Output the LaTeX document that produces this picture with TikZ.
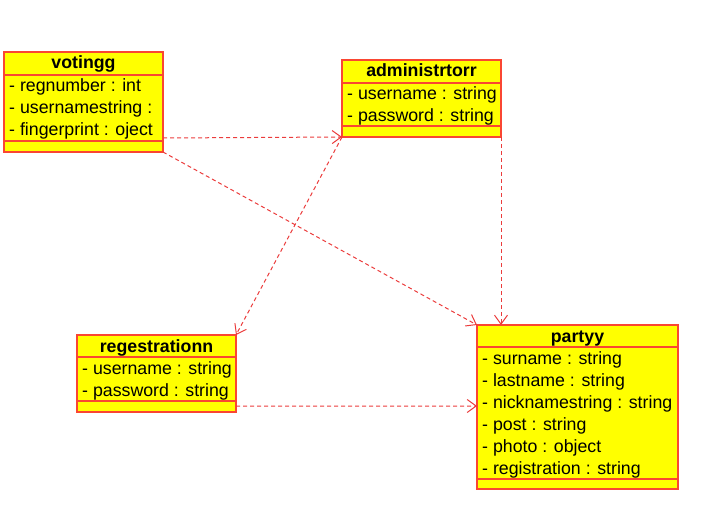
\documentclass[tikz,border=0pt]{standalone}
\usepackage{fontspec}
\setmainfont{Liberation Sans}
\usetikzlibrary{arrows.meta,calc}
\definecolor{boxline}{RGB}{250,70,50}
\definecolor{boxfill}{RGB}{255,255,0}
\definecolor{conn}{RGB}{235,60,60}
\begin{document}
\begin{tikzpicture}[x=1bp,y=-1bp,
  classbox/.style={draw=boxline,fill=boxfill,line width=1.3bp,anchor=north west,inner sep=0,outer sep=0},
  sepline/.style={draw=boxline,line width=1.3bp},
  ttl/.style={font=\fontsize{17.75bp}{21bp}\selectfont\bfseries,anchor=base,inner sep=0},
  attr/.style={font=\fontsize{17.75bp}{21bp}\selectfont,anchor=base west,inner sep=0},
  dep/.style={draw=conn,line width=1bp,dash pattern=on 4bp off 3bp,-{Straight Barb[length=9bp,width=13bp]}}]
\useasboundingbox (0,0) rectangle (714,510);

% votingg
\node[classbox,minimum width=159bp,minimum height=100bp] (votingg) at (4,52) {};
\draw[sepline] ($(votingg.north west)+(0,23)$) -- ($(votingg.north east)+(0,23)$);
\draw[sepline] ($(votingg.north west)+(0,89)$) -- ($(votingg.north east)+(0,89)$);
\node[ttl] (votinggT) at ($(votingg.north)+(0,17)$) {votingg};
\node[attr] (votingg1) at ($(votingg.north west)+(5,40)$) {- regnumber : int};
\node[attr] (votingg2) at ($(votingg.north west)+(5,62)$) {- usernamestring :};
\node[attr] (votingg3) at ($(votingg.north west)+(5,84)$) {- fingerprint : oject};

% administrtorr
\node[classbox,minimum width=159bp,minimum height=77bp] (admin) at (342,60) {};
\draw[sepline] ($(admin.north west)+(0,23)$) -- ($(admin.north east)+(0,23)$);
\draw[sepline] ($(admin.north west)+(0,66)$) -- ($(admin.north east)+(0,66)$);
\node[ttl] (adminT) at ($(admin.north)+(0,17)$) {administrtorr};
\node[attr] (admin1) at ($(admin.north west)+(5,40)$) {- username : string};
\node[attr] (admin2) at ($(admin.north west)+(5,62)$) {- password : string};

% regestrationn
\node[classbox,minimum width=159bp,minimum height=77bp] (reg) at (77,335) {};
\draw[sepline] ($(reg.north west)+(0,22)$) -- ($(reg.north east)+(0,22)$);
\draw[sepline] ($(reg.north west)+(0,66)$) -- ($(reg.north east)+(0,66)$);
\node[ttl] (regT) at ($(reg.north)+(0,17)$) {regestrationn};
\node[attr] (reg1) at ($(reg.north west)+(5,39)$) {- username : string};
\node[attr] (reg2) at ($(reg.north west)+(5,61)$) {- password : string};

% partyy
\node[classbox,minimum width=201bp,minimum height=164bp] (partyy) at (477,325) {};
\draw[sepline] ($(partyy.north west)+(0,22)$) -- ($(partyy.north east)+(0,22)$);
\draw[sepline] ($(partyy.north west)+(0,154)$) -- ($(partyy.north east)+(0,154)$);
\node[ttl] (partyyT) at ($(partyy.north)+(0,17)$) {partyy};
\node[attr] (partyy1) at ($(partyy.north west)+(5,39)$) {- surname : string};
\node[attr] (partyy2) at ($(partyy.north west)+(5,61)$) {- lastname : string};
\node[attr] (partyy3) at ($(partyy.north west)+(5,83)$) {- nicknamestring : string};
\node[attr] (partyy4) at ($(partyy.north west)+(5,105)$) {- post : string};
\node[attr] (partyy5) at ($(partyy.north west)+(5,127)$) {- photo : object};
\node[attr] (partyy6) at ($(partyy.north west)+(5,149)$) {- registration : string};

% connectors
\draw[dep] ($(votingg.south east)+(0,-14)$) -- (admin.south west);
\draw[dep] (votingg.south east) -- (partyy.north west);
\draw[dep] (admin.south west) -- (reg.north east);
\draw[dep] (admin.south east) -- (admin.south east |- partyy.north);
\draw[dep] ($(reg.south east)+(0,-6)$) -- ($(partyy.north west)+(0,81)$);
\end{tikzpicture}
\end{document}
